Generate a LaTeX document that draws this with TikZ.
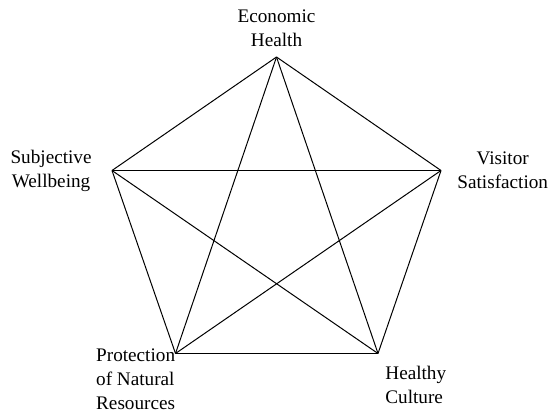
\documentclass[tikz,border=0pt]{standalone}
\usepackage{fontspec}
\setmainfont{Liberation Serif}
\usetikzlibrary{positioning}

\begin{document}
\begin{tikzpicture}[x=0.5pt,y=-0.5pt,
    every node/.style={inner sep=0pt, font=\rmfamily\fontsize{9.6}{12}\selectfont}]
  \useasboundingbox (0,0) rectangle (551,412);
  % corners of the pentagon
  \coordinate (eh) at (276.5,57);
  \coordinate (vs) at (441,170.5);
  \coordinate (hc) at (378,353.5);
  \coordinate (pn) at (175.5,353.5);
  \coordinate (sw) at (112,170.5);

  \node (eh-l) [above=5pt of eh, align=center] {Economic\\Health};
  \node (vs-l) [right=8pt of vs, align=center] {Visitor\\Satisfaction};
  \node (hc-l) [below right=6pt and 3.5pt of hc, align=left] {Healthy\\Culture};
  \node (pn-l) [below left=-2.75pt and 0pt of pn, align=left] {Protection\\of Natural\\Resources};
  \node (sw-l) [left=10pt of sw, align=center] {Subjective\\Wellbeing};

  \path[line width=0.5pt]
    (eh) edge (vs) edge (hc) edge (pn) edge (sw)
    (vs) edge (hc) edge (pn) edge (sw)
    (hc) edge (pn) edge (sw)
    (pn) edge (sw);
\end{tikzpicture}
\end{document}
